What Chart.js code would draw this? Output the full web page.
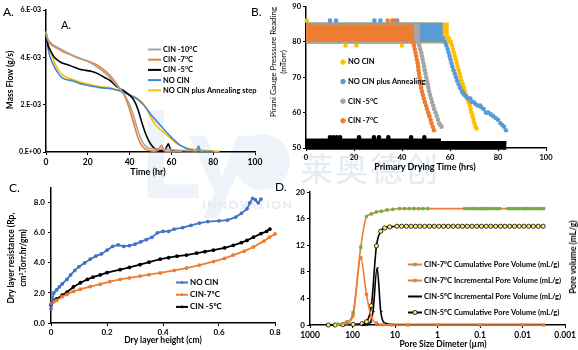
<!DOCTYPE html>
<html>
<head>
<meta charset="utf-8">
<script src="https://cdn.jsdelivr.net/npm/chart.js@4.4.1/dist/chart.umd.min.js"></script>
<style>
  html, body { margin: 0; padding: 0; background: #fff; }
  #page { position: relative; width: 578px; height: 350px; overflow: hidden; font-family: Lato, "Open Sans", sans-serif; }
  canvas { position: absolute; z-index: 2; }
  .mark { position: absolute; z-index: 1; color: #eaf0f7; white-space: nowrap; }
  .t { position: absolute; z-index: 3; white-space: nowrap; font-weight: bold; color: #000; transform: translate(-50%, -50%); text-align: center; }
  .v { transform: translate(-50%, -50%) rotate(-90deg); }
  .lab { position: absolute; z-index: 3; font-size: 12px; color: #000; }
  sup { font-size: 5px; vertical-align: 3px; line-height: 0; }
</style>
</head>
<body>
<div id="page">
  <!-- watermark -->
  <div class="mark" style="left:138px;top:80px;font-size:120px;font-weight:bold;color:#eef3f9;">Ly</div>
  <div class="mark" style="left:234px;top:134px;width:56px;height:56px;border-radius:50%;background:#eef3f9;"></div>
  <div class="mark" style="left:300px;top:143px;font-size:33px;font-family:'Noto Sans CJK SC';letter-spacing:2px;color:#e3ebf5;">莱奥德创</div>
  <div class="mark" style="left:202px;top:197px;font-size:12px;font-weight:bold;letter-spacing:1.5px;color:#e3ebf5;">INNOVATION</div>

  <canvas id="chartA" width="270" height="180" style="left:0;top:0"></canvas>
  <canvas id="chartB" width="308" height="170" style="left:270px;top:0"></canvas>
  <canvas id="chartC" width="290" height="170" style="left:0;top:180px"></canvas>
  <canvas id="chartD" width="288" height="170" style="left:290px;top:180px"></canvas>

  <div class="lab" style="left:3px;top:4px">A.</div>
  <div class="lab" style="left:61px;top:18px;font-size:11px">A.</div>
  <div class="lab" style="left:251px;top:4px">B.</div>
  <div class="lab" style="left:9px;top:180px">C.</div>
  <div class="lab" style="left:275px;top:179px">D.</div>

  <div class="t v" style="left:10px;top:80px;font-size:8.5px">Mass Flow (g/s)</div>
  <div class="t" style="left:148px;top:171px;font-size:9px">Time (hr)</div>
  <div class="t v" style="left:278px;top:62px;font-size:8px;line-height:10px;font-weight:normal">Pirani Gauge Presssure Reading<br>(mTorr)</div>
  <div class="t" style="left:425px;top:166px;font-size:9px">Primary Drying Time (hrs)</div>
  <div class="t v" style="left:17px;top:258px;font-size:8.5px;line-height:12px">Dry layer resistance (Rp,<br>cm<sup>2</sup>.Torr.hr/gm)</div>
  <div class="t" style="left:163px;top:340px;font-size:8.5px">Dry layer height (cm)</div>
  <div class="t" style="left:443px;top:344px;font-size:8.5px">Pore Size Dimeter (µm)</div>
  <div class="t v" style="left:573px;top:257px;font-size:8.5px">Pore volume (mL/g)</div>
</div>

<script>
// ---- Panel A: mass flow (x1e-3 g/s) vs time (hr) ----
const cin10Flow = [[0,5.05],[1,4.75],[3,4.55],[5,4.45],[8,4.3],[12,4.12],[16,3.97],[20,3.82],[24,3.62],[28,3.35],[31,3.1],[34,2.8],[36,2.6],[38,2.35],[40,2.0],[42,1.5],[44,0.9],[46,0.45],[48,0.22],[50,0.15],[55,0.12],[60,0.1],[65,0.07],[75,0.05]];
const cin7Flow = [[0,5.0],[1,4.7],[3,4.5],[5,4.4],[8,4.25],[12,4.1],[16,3.95],[20,3.85],[24,3.7],[28,3.45],[31,3.2],[34,2.85],[36,2.6],[38,2.3],[40,1.8],[42,1.2],[44,0.6],[46,0.25],[48,0.1],[50,0.05],[53,0.05],[55.3,0.28],[56.5,0.05],[60,0.02],[65,0.02]];
const cin5Flow = [[0,5.0],[1,4.5],[2,4.3],[4,4.0],[6,3.85],[8,3.75],[10,3.7],[13,3.6],[16,3.5],[19,3.45],[22,3.4],[25,3.3],[28,3.15],[31,3.0],[34,2.75],[37,2.6],[40,2.4],[42,2.2],[44,1.8],[46,1.2],[48,0.7],[50,0.35],[52,0.15],[55,0.08],[57,0.1],[58.5,0.35],[60,0.05],[65,0.03]];
const noCinFlow = [[0,5.0],[1,4.4],[2,4.0],[4,3.6],[6,3.3],[8,3.12],[10,3.05],[13,3.0],[16,2.9],[19,2.83],[22,2.78],[25,2.73],[28,2.7],[31,2.67],[34,2.62],[37,2.52],[40,2.4],[43,2.28],[46,2.05],[48,1.85],[50,1.6],[52,1.4],[54,1.2],[56,1.0],[58,0.8],[60,0.62],[62,0.45],[64,0.3],[66,0.2],[68,0.12],[70,0.08],[72,0.05],[73,0.25],[74,0.05],[78,0.03],[80,0.02]];
const annealFlow = [[0,5.1],[1,4.6],[2,4.3],[4,3.8],[6,3.45],[8,3.25],[10,3.15],[13,3.05],[16,2.97],[19,2.9],[22,2.83],[26,2.76],[30,2.72],[34,2.62],[37,2.52],[40,2.42],[43,2.3],[46,2.1],[48,1.85],[50,1.5],[52,1.2],[54,1.0],[56,0.85],[58,0.7],[60,0.55],[62,0.4],[64,0.28],[67,0.18],[70,0.12],[74,0.08],[78,0.05],[83,0.03]];
const flowTicks = [0, 2, 4, 6];

// ---- Panel B: Pirani reading (mTorr) vs primary drying time (hrs) ----
// plateau rows: [time, low reading, high reading] of the dense block
const noCinBand = [[0,80,85],[59.5,80,85]];
const annealBand = [[0,80.3,85],[57,80.3,85]];
const cin5Band = [[0,80,84.7],[47.5,80,84.7]];
const cin7Band = [[0,80.5,84.4],[45,80.5,84.4]];
const cin10Band = [[0,50,52.2],[55.5,50,52.2],[55.5,50,51.5],[83.5,50,51.5]];
// separate readings: outliers and the falling tails
const noCinPts = [[0.3,86],[16.5,79],[21,79],[40,79],[58.5,82],[59.5,81],[60.3,80],[60.8,79],[61.2,78],[61.6,77],[62,76],[62.4,75],[62.8,74],[63.2,73],[63.6,72],[64,71],[64.4,70],[64.8,69],[65.3,68],[65.8,67],[66.2,66],[66.7,65],[67.2,64],[67.7,63],[68.2,62],[68.6,61],[69,60],[69.4,59],[69.8,58],[70.2,57],[70.6,56],[71,55.5]];
const annealPts = [[10,86],[12.5,86],[28.5,86],[31,86],[38,86],[57,81],[57.8,80],[58.5,79],[59,78],[59.4,77],[59.8,76],[60.2,75],[60.6,74],[61,73],[61.5,72],[62,71],[62.5,70],[63,69],[63.6,68],[64.2,67],[65,66],[65.5,65.5],[66,65],[66.8,64.5],[67.5,64],[68.5,64],[69,63],[69.8,63],[70.5,62.5],[71.5,62],[72.5,62],[73,61.5],[74,61],[75,60],[76,60],[77,59.5],[78,59],[79,58.5],[80,58],[81,57],[81.8,56.5],[82.5,56],[83.3,55]];
const cin5Pts = [[46.5,80],[47.2,79],[47.6,78],[48,77],[48.3,76],[48.6,75],[48.9,74],[49.2,73],[49.5,72],[49.8,71],[50.1,70],[50.4,69],[50.7,68],[51,67],[51.3,66],[51.7,65],[52.1,64],[52.5,63],[53,62],[53.4,61],[54,60],[54.5,59],[55,58],[55.5,57],[56,56.5],[56.5,56]];
const cin7Pts = [[34,86],[36,86],[37,86],[44.5,80],[45,79],[45.3,78],[45.6,77],[45.9,76],[46.2,75],[46.5,74],[46.7,73],[46.9,72],[47.1,71],[47.3,70],[47.6,69],[47.8,68],[48,67],[48.3,66],[48.7,65],[49.1,64],[49.5,63],[50,62],[50.4,61],[50.9,60],[51.4,59],[51.9,58],[52.3,57],[52.8,56],[53.3,55]];
const cin10Pts = [[10,53],[11.4,53],[12.8,53],[14.2,53],[22.1,53],[28.3,53],[30.4,53],[34.3,53],[43.8,53],[49.3,53]];

// ---- Panel C: dry layer resistance vs dry layer height (cm) ----
const noCinRp = [[0,0.95],[0.005,1.6],[0.01,2.0],[0.02,2.2],[0.03,2.4],[0.04,2.6],[0.057,2.9],[0.07,3.2],[0.085,3.5],[0.1,3.75],[0.12,4.0],[0.14,4.25],[0.16,4.45],[0.18,4.6],[0.2,4.85],[0.22,5.1],[0.24,5.2],[0.26,5.1],[0.28,5.15],[0.3,5.25],[0.32,5.4],[0.34,5.55],[0.36,5.7],[0.38,6.0],[0.4,6.1],[0.42,6.1],[0.44,6.25],[0.47,6.35],[0.5,6.5],[0.53,6.65],[0.56,6.75],[0.6,6.8],[0.63,6.85],[0.66,7.05],[0.68,7.3],[0.7,7.6],[0.71,8.0],[0.72,8.3],[0.73,8.2],[0.74,8.0],[0.75,8.25]];
const cin7Rp = [[0,1.3],[0.01,1.4],[0.02,1.5],[0.04,1.75],[0.057,1.9],[0.08,2.1],[0.105,2.25],[0.14,2.42],[0.176,2.58],[0.21,2.75],[0.247,2.9],[0.28,3.0],[0.318,3.12],[0.35,3.22],[0.39,3.33],[0.44,3.5],[0.484,3.66],[0.53,3.85],[0.58,4.09],[0.62,4.3],[0.651,4.52],[0.69,4.78],[0.723,5.06],[0.76,5.45],[0.78,5.7],[0.8,5.93]];
const cin5Rp = [[0,1.2],[0.01,1.5],[0.02,1.6],[0.04,1.85],[0.057,2.05],[0.08,2.4],[0.105,2.68],[0.13,2.9],[0.15,3.05],[0.176,3.2],[0.2,3.35],[0.247,3.55],[0.28,3.7],[0.318,3.88],[0.35,4.05],[0.39,4.25],[0.42,4.35],[0.45,4.45],[0.484,4.52],[0.52,4.65],[0.55,4.75],[0.58,4.85],[0.62,5.0],[0.651,5.17],[0.68,5.35],[0.7,5.5],[0.723,5.71],[0.75,5.95],[0.77,6.1],[0.782,6.25]];
const rpTicks = [0, 2, 4, 6, 8];

// ---- Panel D: pore volume (mL/g) vs pore size (um) ----
const cin7Cum = [[220,0.1],[138,0.45],[97,1.85],[64,11.7],[47,16.3],[36,16.7],[27.5,17.0],[21,17.1],[15.5,17.3],[11.2,17.4],[7.8,17.5],[6,17.5],[4.6,17.5],[3.6,17.5],[2.8,17.5],[2.2,17.5],[1.7,17.5],[0.23,17.5],[0.19,17.5],[0.16,17.5],[0.14,17.5],[0.12,17.5],[0.1,17.5],[0.09,17.5],[0.08,17.5],[0.07,17.5],[0.06,17.5],[0.05,17.5],[0.042,17.5],[0.035,17.5],[0.022,17.5],[0.019,17.5],[0.016,17.5],[0.014,17.5],[0.012,17.5],[0.01,17.5],[0.009,17.5],[0.008,17.5],[0.007,17.5],[0.006,17.5],[0.005,17.5],[0.0042,17.5],[0.0036,17.5],[0.0032,17.5]];
const cin7Inc = [[220,0.1],[138,0.3],[97,1.4],[64,10.1],[47,4.6],[36,1.15],[27.5,0.3],[19,0.05],[12,0],[5,0],[1,0],[0.1,0],[0.01,0],[0.0032,0]];
const cin5Inc = [[60,0],[45,0.05],[38,0.4],[33,2.0],[26.4,8.6],[21.7,2.05],[17,0.25],[12,0.1],[9,0.05],[7,0.05],[5.4,0.05],[4.2,0.05],[3.3,0.05],[2.6,0.05],[2,0.05],[1.55,0.05],[1.2,0.05],[0.93,0.05],[0.72,0.05],[0.56,0.05],[0.43,0.05],[0.33,0.05],[0.26,0.05],[0.2,0.05],[0.155,0.05],[0.12,0.05],[0.093,0.05],[0.072,0.05],[0.056,0.05],[0.043,0.05],[0.033,0.05],[0.026,0.05],[0.02,0.05],[0.0155,0.05],[0.012,0.05],[0.0093,0.05],[0.0072,0.05],[0.0056,0.05],[0.0043,0.05],[0.0033,0.05]];
const cin5Cum = [[370,0],[257,0],[170,0.05],[97,0.1],[60,0.2],[47,0.5],[36,2.9],[27.4,11.9],[21.7,14.1],[17.4,14.6],[13.3,14.75],[9,14.85],[7,14.85],[5.4,14.85],[4.2,14.85],[3.3,14.85],[2.6,14.85],[2,14.85],[1.55,14.85],[1.2,14.85],[0.93,14.85],[0.72,14.85],[0.56,14.85],[0.43,14.85],[0.33,14.85],[0.26,14.85],[0.2,14.85],[0.155,14.85],[0.12,14.85],[0.093,14.85],[0.072,14.85],[0.056,14.85],[0.043,14.85],[0.033,14.85],[0.026,14.85],[0.02,14.85],[0.0155,14.85],[0.012,14.85],[0.0093,14.85],[0.0072,14.85],[0.0056,14.85],[0.0043,14.85],[0.0033,14.85]];
const poreTicks = [1000, 100, 10, 1, 0.1, 0.01, 0.001];

const ORANGE = '#ED7D31', GRAY = '#A5A5A5', YELLOW = '#FFC000', GREEN = '#70AD47';

Chart.defaults.font.family = "Lato, 'Open Sans', sans-serif";
Chart.defaults.color = '#000';

// Helper: pairs -> {x, y}
const xy = arr => arr.map(p => ({ x: p[0], y: p[1] }));

// Legend drawn inside the plot at a fixed spot
const panelLegend = {
  id: 'panelLegend',
  afterDatasetsDraw(chart, args, opts) {
    if (!opts.items) return;
    const ctx = chart.ctx;
    ctx.save();
    ctx.font = 'bold ' + opts.size + 'px Lato';
    ctx.textBaseline = 'middle';
    opts.items.forEach((idx, i) => {
      const ds = chart.data.datasets[idx];
      const y = opts.y + i * opts.gap;
      if (opts.len) {
        ctx.strokeStyle = ds.borderColor;
        ctx.lineWidth = 2;
        ctx.beginPath();
        ctx.moveTo(opts.x, y);
        ctx.lineTo(opts.x + opts.len, y);
        ctx.stroke();
      }
      if (ds.pointRadius) {
        ctx.fillStyle = ds.pointBackgroundColor || ds.backgroundColor;
        ctx.strokeStyle = ds.pointBorderColor || ds.borderColor;
        ctx.lineWidth = ds.pointBorderWidth || 1;
        Chart.helpers.drawPoint(ctx, {
          pointStyle: ds.pointStyle || 'circle', rotation: 0,
          radius: ds.pointRadius, borderWidth: ds.pointBorderWidth || 1
        }, opts.x + (opts.len || 0) / 2, y);
      }
      ctx.fillStyle = '#000';
      ctx.fillText(ds.label, opts.textX, y);
    });
    ctx.restore();
  }
};
Chart.register(panelLegend);

function axis(min, max, step, size, fit, extra) {
  return Object.assign({
    type: 'linear', min: min, max: max,
    ticks: { stepSize: step, font: { size: size, weight: 'bold' }, color: '#000', padding: 2 },
    grid: { display: true, drawOnChartArea: false, tickLength: 3, color: '#000' },
    border: { color: '#000', width: 1.5 },
    afterFit: fit
  }, extra || {});
}

function makeChart(id, type, datasets, scales, legend, pad) {
  return new Chart(document.getElementById(id), {
    type: type,
    data: { datasets: datasets },
    options: {
      responsive: false, animation: false, devicePixelRatio: 1,
      layout: { padding: pad },
      plugins: { legend: { display: false }, tooltip: { enabled: false }, panelLegend: legend },
      scales: scales
    }
  });
}

// ---- A ----
function flowLine(label, data, color) {
  return { label: label, data: xy(data), borderColor: color, backgroundColor: color,
    borderWidth: 1.6, pointRadius: 0, tension: 0.25, clip: false };
}
makeChart('chartA', 'line', [
  flowLine('CIN -10°C', cin10Flow, GRAY),
  flowLine('CIN -7°C', cin7Flow, ORANGE),
  flowLine('CIN -5°C', cin5Flow, '#000'),
  flowLine('NO CIN', noCinFlow, '#3F86CF'),
  flowLine('NO CIN plus Annealing step', annealFlow, YELLOW)
], {
  x: axis(0, 100, 20, 8.5, s => { s.height = 28; }),
  y: axis(0, 6, 2, 7, s => { s.width = 46; }, {
    afterBuildTicks: s => { s.ticks = flowTicks.map(v => ({ value: v })); },
    ticks: { font: { size: 7, weight: 'bold' }, color: '#000', padding: 2,
      callback: v => v === 0 ? '0.E+00' : v + '.E-03' }
  })
}, { items: [0, 1, 2, 3, 4], x: 148, y: 49.5, gap: 10.2, len: 13, textX: 163, size: 7.5 },
{ top: 10, right: 15, left: 0, bottom: 0 });

// ---- B ----
function pirani(label, pts, band, color, order, radius) {
  const ptSet = { type: 'scatter', label: label, data: xy(pts), backgroundColor: color, borderColor: color,
    pointRadius: radius, pointBorderWidth: 0, order: order, clip: false };
  const edge = { type: 'line', showLine: true, fill: false, pointRadius: 0, borderWidth: 3.5,
    borderColor: color, backgroundColor: color, order: order, clip: false };
  const lo = Object.assign({}, edge, { label: '', data: band.map(r => ({ x: r[0], y: r[1] })) });
  const hi = Object.assign({}, edge, { label: '', data: band.map(r => ({ x: r[0], y: r[2] })), fill: '-1' });
  return [ptSet, lo, hi];
}
makeChart('chartB', 'scatter', [].concat(
  pirani('CIN -7°C', cin7Pts, cin7Band, ORANGE, 1, 2.3),
  pirani('CIN -5°C', cin5Pts, cin5Band, GRAY, 2, 2.3),
  pirani('NO CIN plus Annealing', annealPts, annealBand, '#5B9BD5', 3, 2.3),
  pirani('NO CIN', noCinPts, noCinBand, YELLOW, 4, 2.3),
  pirani('', cin10Pts, cin10Band, '#000', 5, 2.3)
), {
  x: axis(0, 100, 20, 7.5, s => { s.height = 22; }),
  y: axis(50, 90, 10, 7.5, s => { s.width = 36; })
}, { items: [9, 6, 3, 0], x: 73, y: 62, gap: 19.6, len: 0, textX: 78, size: 7.5 },
{ top: 4, right: 32, left: 0, bottom: 0 });

// ---- C ----
function rpLine(label, data, color) {
  return { label: label, data: xy(data), borderColor: color, backgroundColor: color,
    pointBackgroundColor: color, pointBorderColor: color,
    borderWidth: 1.8, pointRadius: 1, pointStyle: 'circle', tension: 0, clip: false };
}
makeChart('chartC', 'line', [
  rpLine('NO CIN', noCinRp, '#4472C4'),
  rpLine('CIN-7ºC', cin7Rp, ORANGE),
  rpLine('CIN -5ºC', cin5Rp, '#000')
], {
  x: axis(0, 0.8, 0.2, 8, s => { s.height = 27; }, {
    ticks: { stepSize: 0.2, font: { size: 8, weight: 'bold' }, color: '#000', padding: 2,
      callback: v => v === 0 ? '0' : v.toFixed(1) }
  }),
  y: axis(0, 9, 2, 8, s => { s.width = 51; }, {
    afterBuildTicks: s => { s.ticks = rpTicks.map(v => ({ value: v })); },
    ticks: { font: { size: 8, weight: 'bold' }, color: '#000', padding: 3, callback: v => v.toFixed(1) }
  })
}, { items: [0, 1, 2], x: 176, y: 102.5, gap: 12.2, len: 12, textX: 190, size: 8 },
{ top: 5, right: 15, left: 0, bottom: 0 });

// ---- D ----
function poreLine(label, data, line, fillC, edgeC, style, radius) {
  return { label: label, data: xy(data), borderColor: line, backgroundColor: fillC,
    pointBackgroundColor: fillC, pointBorderColor: edgeC, pointBorderWidth: 0.8,
    borderWidth: 1.6, pointRadius: radius, pointStyle: style,
    cubicInterpolationMode: 'monotone', clip: false };
}
makeChart('chartD', 'line', [
  poreLine('CIN-7ºC Cumulative Pore Volume (mL/g)', cin7Cum, ORANGE, GREEN, GREEN, 'rect', 1.8),
  poreLine('CIN-7ºC Incremental Pore Volume (mL/g)', cin7Inc, ORANGE, ORANGE, ORANGE, 'rect', 1.8),
  poreLine('CIN-5ºC Incremental Pore Volume (mL/g)', cin5Inc, '#000', '#000', '#000', 'dash', 2),
  poreLine('CIN-5ºC Cumulative Pore Volume (mL/g)', cin5Cum, '#000', '#FFF06A', '#000', 'circle', 2.1)
], {
  x: axis(0.001, 1000, null, 8.5, s => { s.height = 25; }, {
    type: 'logarithmic', reverse: true,
    afterBuildTicks: s => { s.ticks = poreTicks.map(v => ({ value: v })); },
    ticks: { font: { size: 8.5, weight: 'bold' }, color: '#000', padding: 2, callback: v => String(v) }
  }),
  y: axis(0, 20, 4, 8, s => { s.width = 20; })
}, { items: [0, 1, 2, 3], x: 118, y: 84.5, gap: 16, len: 14, textX: 134, size: 7.5 },
{ top: 12, right: 12, left: 0, bottom: 0 });
</script>
</body>
</html>
